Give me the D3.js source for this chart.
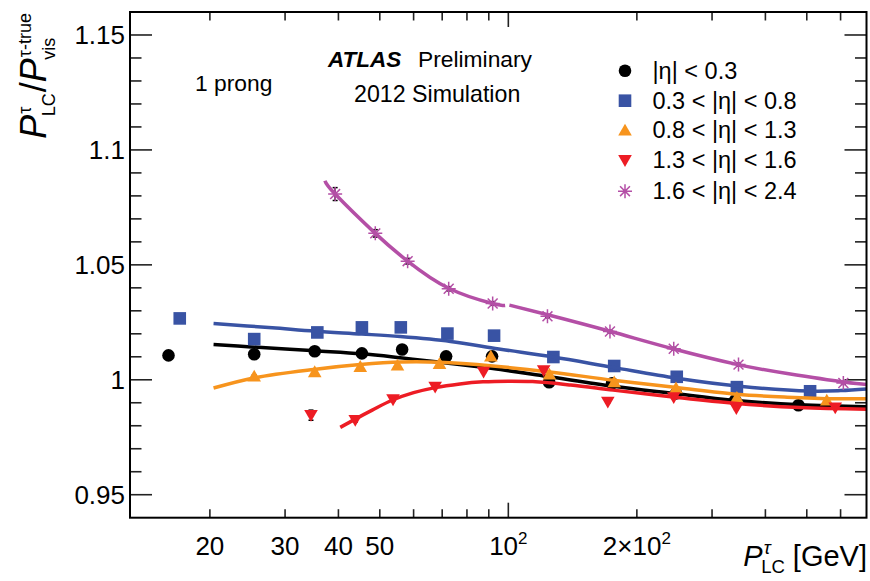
<!DOCTYPE html>
<html>
<head>
<meta charset="utf-8">
<script src="https://cdn.jsdelivr.net/npm/d3@7"></script>
<style>
  body { margin: 0; background: #fff; }
  svg { display: block; }
</style>
</head>
<body>
<svg id="chart" width="870" height="581"></svg>
<script>
// ---- reconstructed response, one-prong taus, five |eta| regions ----
const etaLabels = ["|η| < 0.3", "0.3 < |η| < 0.8", "0.8 < |η| < 1.3", "1.3 < |η| < 1.6", "1.6 < |η| < 2.4"];
const colors    = ["#000000", "#3953a4", "#f7941d", "#ed1c24", "#b44fa6"];
const markers   = ["circle", "square", "triangle", "triangleDown", "star"];

// bin centres (GeV) and response per region
const ptEta0  = [16.0, 25.4, 35.2, 45.4, 56.4, 71.5, 91.6, 124.6, 175, 247, 340, 478];
const resEta0 = [1.0106, 1.0111, 1.0124, 1.0115, 1.0132, 1.0102, 1.0102, 0.9989, 0.9985, 0.9941, 0.9911, 0.9889];
const errEta0 = [0.0005, 0.0005, 0.0005, 0.0005, 0.0005, 0.0005, 0.0005, 0.0005, 0.0005, 0.0005, 0.0005, 0.0005];

const ptEta1  = [17.0, 25.4, 35.7, 45.4, 56.0, 72.0, 92.6, 127.5, 177, 248, 343, 509];
const resEta1 = [1.0267, 1.0177, 1.0206, 1.0228, 1.0228, 1.0201, 1.0192, 1.0099, 1.0060, 1.0013, 0.9968, 0.9950];
const errEta1 = [0.0006, 0.0005, 0.0005, 0.0005, 0.0005, 0.0005, 0.0005, 0.0005, 0.0005, 0.0005, 0.0005, 0.0005];

const ptEta2  = [25.4, 35.2, 45.0, 55.0, 69.0, 91.0, 124.8, 177, 247, 343, 557];
const resEta2 = [1.0015, 1.0034, 1.0057, 1.0063, 1.0070, 1.0102, 1.0024, 0.9990, 0.9964, 0.9923, 0.9911];
const errEta2 = [0.0006, 0.0005, 0.0005, 0.0005, 0.0005, 0.0005, 0.0005, 0.0005, 0.0005, 0.0005, 0.0005];

const ptEta3  = [34.5, 43.8, 53.7, 67.4, 87.5, 121, 171, 244, 342, 583];
const resEta3 = [0.9846, 0.9824, 0.9914, 0.9969, 1.0034, 1.0041, 0.9904, 0.9923, 0.9875, 0.9879];
const errEta3 = [0.0022, 0.0008, 0.0006, 0.0005, 0.0005, 0.0005, 0.0005, 0.0005, 0.0005, 0.0005];

const ptEta4  = [39.3, 48.8, 58.1, 72.5, 91.9, 123.5, 173, 244, 346, 609];
const resEta4 = [1.0808, 1.0637, 1.0516, 1.0396, 1.0332, 1.0276, 1.0210, 1.0135, 1.0066, 0.9986];
const errEta4 = [0.0028, 0.0016, 0.0012, 0.0009, 0.0008, 0.0006, 0.0006, 0.0006, 0.0006, 0.0006];

// fitted response curves, [pT, response]
const fitEta0 = [[20.4,1.0153],[25,1.0143],[35.3,1.0126],[45.4,1.0113],[55.8,1.0096],[68.5,1.0077],[92,1.0049],[123,1.0015],[176,0.9972],[243,0.9941],[336,0.9911],[482,0.9891],[690,0.9883]];
const fitEta1 = [[20.4,1.0245],[28,1.0226],[35.3,1.0211],[45.4,1.0199],[55.8,1.0188],[73.2,1.0167],[95,1.0134],[127.5,1.0099],[176,1.0054],[248,1.0007],[348,0.9972],[509,0.9951],[600,0.9953],[690,0.9960]];
const fitEta2 = [[20.4,0.9964],[25.5,1.0009],[35,1.0045],[45,1.0066],[56,1.0077],[69,1.0076],[92,1.0060],[125,1.0034],[176,0.9998],[248,0.9966],[343,0.9937],[450,0.9924],[557,0.9918],[690,0.9917]];
const fitEta3 = [[40.4,0.9793],[43.8,0.9829],[48,0.9868],[53.4,0.9911],[60,0.9944],[67.4,0.9966],[77,0.9982],[87.2,0.9991],[100,0.9994],[114,0.9992],[140,0.9977],[176,0.9955],[243,0.9925],[337,0.9898],[482,0.9879],[690,0.9872]];
const fitEta4Low  = [[37.2,1.0866],[39.3,1.0808],[48.8,1.0637],[58.1,1.0516],[72.5,1.0398],[91.9,1.0332],[98.3,1.0323]];
const fitEta4High = [[100.6,1.0325],[123,1.0284],[173,1.0211],[243,1.0135],[345,1.0066],[450,1.0027],[610,0.9990],[690,0.9980]];

// axis ticks
const xMinorTicks = [20, 30, 40, 50, 60, 70, 80, 90, 200, 300, 400, 500, 600];
const xMajorTicks = [100];
const xTickLabels = [[20, "20"], [30, "30"], [40, "40"], [50, "50"], [100, "10", "2"], [200, "2×10", "2"]];
const yMajorTicks = [0.95, 1.0, 1.05, 1.1, 1.15];
const yTickLabels = ["0.95", "1", "1.05", "1.1", "1.15"];
const yMinorTicks = d3.range(0.95, 1.1551, 0.01).map(v => +v.toFixed(2));

const series = [
  { pt: ptEta0, res: resEta0, err: errEta0, fits: [fitEta0] },
  { pt: ptEta1, res: resEta1, err: errEta1, fits: [fitEta1] },
  { pt: ptEta2, res: resEta2, err: errEta2, fits: [fitEta2] },
  { pt: ptEta3, res: resEta3, err: errEta3, fits: [fitEta3] },
  { pt: ptEta4, res: resEta4, err: errEta4, fits: [fitEta4Low, fitEta4High] }
];

const FONT = '"Liberation Sans", Arial, Helvetica, sans-serif';
const svg = d3.select("#chart");
const L = 130, R = 866.5, T = 12, B = 517.7;

const x = d3.scaleLog().domain([13, 690]).range([L, R]);
const y = d3.scaleLinear().domain([0.94, 1.16]).range([B, T]);

// ---- ticks ----
const tickCol = "#222";
const ticks = svg.append("g").attr("stroke", tickCol).attr("stroke-width", 1.6);
yMinorTicks.forEach(v => {
  const major = yMajorTicks.some(m => Math.abs(m - v) < 1e-6);
  const len = major ? 22 : 11.5;
  ticks.append("line").attr("x1", L).attr("x2", L + len).attr("y1", y(v)).attr("y2", y(v));
  ticks.append("line").attr("x1", R - len).attr("x2", R).attr("y1", y(v)).attr("y2", y(v));
});
xMinorTicks.concat(xMajorTicks).forEach(v => {
  const len = xMajorTicks.includes(v) ? 15 : 8.5;
  ticks.append("line").attr("x1", x(v)).attr("x2", x(v)).attr("y1", B).attr("y2", B - len);
  ticks.append("line").attr("x1", x(v)).attr("x2", x(v)).attr("y1", T).attr("y2", T + len);
});

// ---- tick labels ----
yMajorTicks.forEach((v, i) => {
  svg.append("text").attr("x", 125).attr("y", y(v) + 9.5)
    .attr("text-anchor", "end").attr("font-family", FONT).attr("font-size", 26)
    .text(yTickLabels[i]);
});
xTickLabels.forEach(d => {
  const t = svg.append("text").attr("x", x(d[0])).attr("y", 554.5)
    .attr("text-anchor", "middle").attr("font-family", FONT).attr("font-size", 26);
  t.append("tspan").text(d[1]);
  if (d[2]) t.append("tspan").attr("font-size", 17).attr("dy", -11).text(d[2]);
});

// ---- marker shapes ----
function drawMarker(g, kind, cx, cy, col) {
  if (kind === "circle") {
    g.append("circle").attr("cx", cx).attr("cy", cy).attr("r", 6.3).attr("fill", col);
  } else if (kind === "square") {
    g.append("rect").attr("x", cx - 6.3).attr("y", cy - 6.3).attr("width", 12.6).attr("height", 12.6).attr("fill", col);
  } else if (kind === "triangle") {
    g.append("path").attr("d", `M${cx - 6.8},${cy + 5.2}L${cx + 6.8},${cy + 5.2}L${cx},${cy - 6.6}Z`).attr("fill", col);
  } else if (kind === "triangleDown") {
    g.append("path").attr("d", `M${cx - 6.8},${cy - 5.2}L${cx + 6.8},${cy - 5.2}L${cx},${cy + 6.6}Z`).attr("fill", col);
  } else if (kind === "star") {
    const r = 7, d = r * Math.SQRT1_2;
    g.append("path")
      .attr("d", `M${cx - r},${cy}L${cx + r},${cy}M${cx},${cy - r}L${cx},${cy + r}M${cx - d},${cy - d}L${cx + d},${cy + d}M${cx - d},${cy + d}L${cx + d},${cy - d}`)
      .attr("stroke", col).attr("stroke-width", 1.5).attr("fill", "none");
  }
}

// ---- series: error bars, markers, fitted curve ----
const lineDense = d3.line().x(d => x(d[0])).y(d => y(d[1])).curve(d3.curveCatmullRom.alpha(0.5));
const lineSparse = d3.line().x(d => x(d[0])).y(d => y(d[1])).curve(d3.curveNatural);
const plot = svg.append("g");
series.forEach((s, i) => {
  const g = plot.append("g");
  s.pt.forEach((p, j) => {
    const cx = x(p), y0 = y(s.res[j] - s.err[j]), y1 = y(s.res[j] + s.err[j]);
    g.append("line").attr("x1", cx).attr("x2", cx).attr("y1", y0).attr("y2", y1).attr("stroke", "#000").attr("stroke-width", 1.5);
    g.append("line").attr("x1", cx - 2.5).attr("x2", cx + 2.5).attr("y1", y0).attr("y2", y0).attr("stroke", "#000").attr("stroke-width", 1.5);
    g.append("line").attr("x1", cx - 2.5).attr("x2", cx + 2.5).attr("y1", y1).attr("y2", y1).attr("stroke", "#000").attr("stroke-width", 1.5);
  });
  s.pt.forEach((p, j) => drawMarker(g, markers[i], x(p), y(s.res[j]), colors[i]));
  s.fits.forEach(f => {
    const gen = f.length < 10 ? lineSparse : lineDense;
    g.append("path").attr("d", gen(f)).attr("fill", "none").attr("stroke", colors[i]).attr("stroke-width", 3.5);
  });
});

// ---- frame ----
svg.append("rect").attr("x", L).attr("y", T).attr("width", R - L).attr("height", B - T)
  .attr("fill", "none").attr("stroke", "#000").attr("stroke-width", 2);

// ---- legend ----
const legY = [70.7, 100.7, 130.3, 160.3, 191.2];
etaLabels.forEach((lab, i) => {
  drawMarker(svg, markers[i], 625, legY[i], colors[i]);
  svg.append("text").attr("x", 652.5).attr("y", legY[i] + 8)
    .attr("font-family", FONT).attr("font-size", 23.5).text(lab);
});

// ---- labels ----
svg.append("text").attr("x", 328).attr("y", 67).attr("font-family", FONT)
  .attr("font-size", 22.5).attr("font-weight", "bold").attr("font-style", "italic").text("ATLAS");
svg.append("text").attr("x", 418).attr("y", 67).attr("font-family", FONT)
  .attr("font-size", 22.8).text("Preliminary");
svg.append("text").attr("x", 354).attr("y", 102).attr("font-family", FONT)
  .attr("font-size", 23.2).text("2012 Simulation");
svg.append("text").attr("x", 195).attr("y", 90.5).attr("font-family", FONT)
  .attr("font-size", 22.8).text("1 prong");

// helper: text piece, returns its advance width
function piece(parent, px, py, str, size, italic) {
  const t = parent.append("text").attr("x", px).attr("y", py)
    .attr("font-family", FONT).attr("font-size", size).style("white-space", "pre").text(str);
  if (italic) t.attr("font-style", "italic");
  return t.node().getComputedTextLength();
}
// P with stacked subscript / superscript
function pSym(parent, px, size, sub, sup, subSize, supItalic) {
  const wP = piece(parent, px, 0, "P", size, true);
  const wSup = piece(parent, px + wP + 1, -size * 0.42, sup, subSize, supItalic);
  const wSub = piece(parent, px + wP - 1.5, size * 0.25, sub, subSize, false);
  return wP + Math.max(wSup + 1, wSub - 1.5);
}

// x-axis title, right-aligned to the frame
{
  const g = svg.append("g");
  let cx = pSym(g, 0, 29, "LC", "τ", 18.5, true);
  cx += piece(g, cx, 0, "\u00A0[GeV]", 29, false);
  g.attr("transform", `translate(${867 - cx},566)`);
}

// y-axis title, rotated, ending near the top of the frame
{
  const g = svg.append("g");
  let cx = pSym(g, 0, 36, "LC", "τ", 18, false);
  cx += piece(g, cx + 1, 0, "/", 36, false) + 1;
  cx += pSym(g, cx, 36, "vis", "τ-true", 18, false);
  g.attr("transform", `translate(46,${13 + cx}) rotate(-90)`);
}
</script>
</body>
</html>
